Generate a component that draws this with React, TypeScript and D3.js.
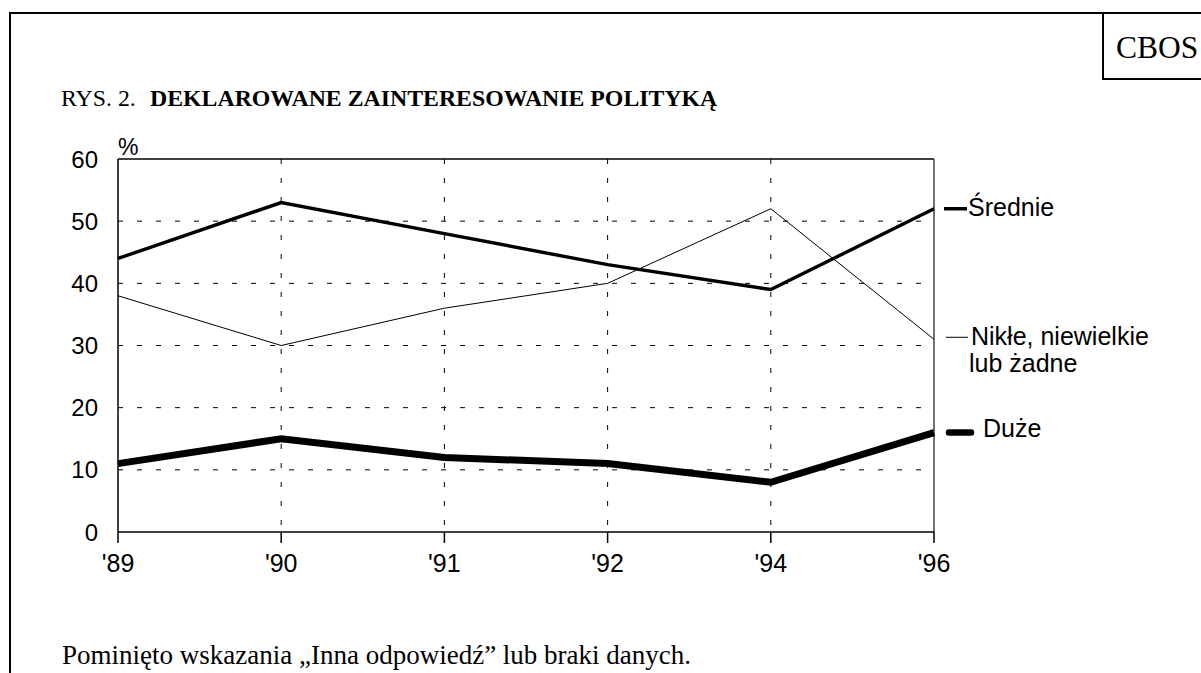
import React from "react";
import * as d3 from "d3";

const years = ["'89", "'90", "'91", "'92", "'94", "'96"];
const yTicks = [0, 10, 20, 30, 40, 50, 60];
const srednie = [44, 53, 48, 43, 39, 52];
const nikle = [38, 30, 36, 40, 52, 31];
const duze = [11, 15, 12, 11, 8, 16];

const W = 1201;
const H = 673;
const plot = { left: 118, right: 934, top: 159, bottom: 532 };

export default function App() {
  const x = d3.scalePoint<string>().domain(years).range([plot.left, plot.right]);
  const y = d3.scaleLinear().domain([0, 60]).range([plot.bottom, plot.top]);
  const line = d3
    .line<number>()
    .x((_, i) => x(years[i]) as number)
    .y((d) => y(d));

  const sans = "'Liberation Sans', Arial, sans-serif";
  const serif = "'Liberation Serif', 'Times New Roman', serif";
  const lastX = x(years[years.length - 1]) as number;

  const series = [
    { name: "Średnie", data: srednie, w: 3.4 },
    { name: "Nikłe", data: nikle, w: 1 },
    { name: "Duże", data: duze, w: 7 },
  ];

  return (
    <svg
      width={W}
      height={H}
      style={{ position: "absolute", left: 0, top: 0, background: "#fff" }}
    >
      {/* outer frame */}
      <line x1={10} y1={13} x2={W} y2={13} stroke="#000" strokeWidth={2} />
      <line x1={10} y1={12} x2={10} y2={H} stroke="#000" strokeWidth={2} />
      {/* CBOS box */}
      <line x1={1103} y1={13} x2={1103} y2={79} stroke="#000" strokeWidth={2} />
      <line x1={1102} y1={79} x2={W} y2={79} stroke="#000" strokeWidth={2} />
      <text x={1116} y={58} fontFamily={serif} fontSize={31.5} fill="#000">
        CBOS
      </text>

      {/* title */}
      <text x={61} y={106} fontFamily={serif} fontSize={23.8} fill="#000">
        <tspan>RYS. 2.</tspan>
        <tspan x={150} fontWeight="bold">
          DEKLAROWANE ZAINTERESOWANIE POLITYKĄ
        </tspan>
      </text>

      {/* gridlines */}
      {yTicks
        .filter((t) => t > 0 && t < 60)
        .map((t) => (
          <line
            key={"gy" + t}
            x1={plot.left}
            x2={plot.right}
            y1={y(t)}
            y2={y(t)}
            stroke="#000"
            strokeWidth={1}
            strokeDasharray="5,14"
          />
        ))}
      {years.slice(1, -1).map((yr) => (
        <line
          key={"gx" + yr}
          x1={x(yr)}
          x2={x(yr)}
          y1={plot.top}
          y2={plot.bottom}
          stroke="#000"
          strokeWidth={1}
          strokeDasharray="5,14"
        />
      ))}

      {/* frame */}
      <line x1={plot.left} x2={plot.right} y1={plot.top} y2={plot.top} stroke="#000" strokeWidth={1.5} />
      <line x1={plot.right} x2={plot.right} y1={plot.top} y2={plot.bottom} stroke="#444" strokeWidth={1.5} />
      <line x1={plot.left} x2={plot.left} y1={plot.top} y2={plot.bottom} stroke="#000" strokeWidth={1.5} />
      <line x1={plot.left} x2={plot.right} y1={plot.bottom} y2={plot.bottom} stroke="#000" strokeWidth={1.5} />

      {/* x ticks and labels */}
      {years.map((yr) => (
        <g key={"xt" + yr}>
          <line
            x1={x(yr)}
            x2={x(yr)}
            y1={plot.bottom}
            y2={plot.bottom + 11}
            stroke="#000"
            strokeWidth={1.5}
          />
          <text
            x={x(yr)}
            y={572}
            textAnchor="middle"
            fontFamily={sans}
            fontSize={25}
            fill="#000"
          >
            {yr}
          </text>
        </g>
      ))}

      {/* y labels */}
      {yTicks.map((t) => (
        <text
          key={"yt" + t}
          x={98}
          y={y(t)}
          dy="0.36em"
          textAnchor="end"
          fontFamily={sans}
          fontSize={24}
          fill="#000"
        >
          {t}
        </text>
      ))}
      <text x={118} y={155} fontFamily={sans} fontSize={23} fill="#000">
        %
      </text>

      {/* series */}
      {series.map((s) => (
        <path
          key={s.name}
          d={line(s.data) as string}
          fill="none"
          stroke="#000"
          strokeWidth={s.w}
          strokeLinejoin="miter"
        />
      ))}

      {/* legend */}
      <line
        x1={lastX + 10}
        x2={lastX + 33}
        y1={y(srednie[5])}
        y2={y(srednie[5])}
        stroke="#000"
        strokeWidth={3.5}
      />
      <text x={968} y={216} fontFamily={sans} fontSize={25} fill="#000">
        Średnie
      </text>
      <line
        x1={lastX + 12}
        x2={lastX + 34}
        y1={y(nikle[5]) - 2}
        y2={y(nikle[5]) - 2}
        stroke="#000"
        strokeWidth={1}
      />
      <text x={971} y={345} fontFamily={sans} fontSize={25} fill="#000">
        Nikłe, niewielkie
      </text>
      <text x={969} y={372} fontFamily={sans} fontSize={25} fill="#000">
        lub żadne
      </text>
      <line
        x1={lastX + 15}
        x2={lastX + 37}
        y1={y(duze[5])}
        y2={y(duze[5])}
        stroke="#000"
        strokeWidth={6.5}
        strokeLinecap="round"
      />
      <text x={983} y={437} fontFamily={sans} fontSize={25} fill="#000">
        Duże
      </text>

      {/* footnote */}
      <text x={62} y={664} fontFamily={serif} fontSize={27} fill="#000">
        Pominięto wskazania „Inna odpowiedź” lub braki danych.
      </text>
    </svg>
  );
}
